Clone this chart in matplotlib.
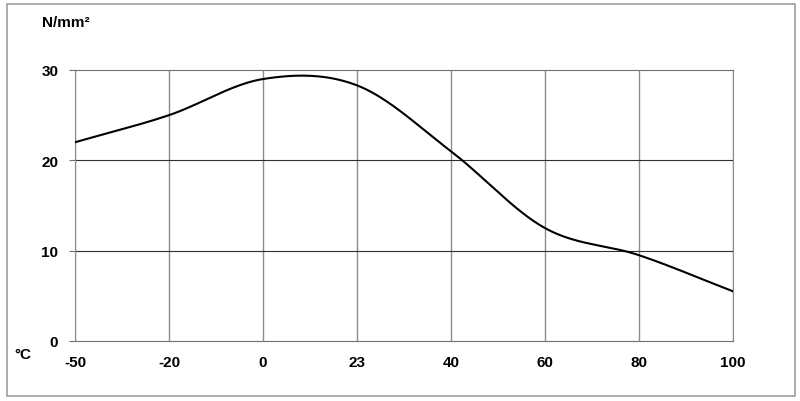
import numpy as np
import matplotlib.pyplot as plt
from matplotlib.patches import Rectangle

plt.rcParams['font.family'] = ['Liberation Sans', 'DejaVu Sans']

# temperature categories and strength values
temps = ['-50', '-20', '0', '23', '40', '60', '80', '100']
strength = [22.0, 25.0, 29.0, 28.3, 21.0, 12.5, 9.5, 5.5]
y_ticks = [0, 10, 20, 30]


def smooth(y, n=40):
    # catmull-rom through the points, like a spreadsheet "smoothed line"
    x = np.arange(len(y), dtype=float)
    y = np.asarray(y, dtype=float)
    px = np.concatenate([[2 * x[0] - x[1]], x, [2 * x[-1] - x[-2]]])
    py = np.concatenate([[2 * y[0] - y[1]], y, [2 * y[-1] - y[-2]]])
    xs, ys = [], []
    for i in range(1, len(px) - 2):
        t = np.linspace(0, 1, n, endpoint=(i == len(px) - 3))
        for p, out in ((px, xs), (py, ys)):
            p0, p1, p2, p3 = p[i - 1], p[i], p[i + 1], p[i + 2]
            out.extend(0.5 * ((2 * p1) + (-p0 + p2) * t
                              + (2 * p0 - 5 * p1 + 4 * p2 - p3) * t ** 2
                              + (-p0 + 3 * p1 - 3 * p2 + p3) * t ** 3))
    return np.array(xs), np.array(ys)


fig = plt.figure(figsize=(8, 4.02), dpi=100)
fig.patches.append(Rectangle((7 / 800, 5 / 402), 788 / 800, 392 / 402,
                             transform=fig.transFigure, fill=False,
                             edgecolor='#a0a0a0', linewidth=1.2))

ax = fig.add_axes([75 / 800, 60 / 402, 658 / 800, 271 / 402])
xs, ys = smooth(strength)
ax.plot(xs, ys, color='black', linewidth=1.5, zorder=3)

ax.set_xlim(0, len(temps) - 1)
ax.set_ylim(0, 30)
ax.set_xticks(range(len(temps)))
ax.set_xticklabels(temps, fontweight='bold', fontsize=11)
ax.set_yticks(y_ticks)
ax.set_yticklabels([str(v) for v in y_ticks], fontweight='bold', fontsize=11)

for i in range(len(temps)):
    ax.axvline(i, color='#8c8c8c', linewidth=1, zorder=1)
for v in y_ticks[1:-1]:
    ax.axhline(v, color='#303030', linewidth=0.8, zorder=1)

for s in ['top', 'bottom']:
    ax.spines[s].set_color('#707070')
for s in ['left', 'right']:
    ax.spines[s].set_color('#8c8c8c')
ax.tick_params(axis='y', length=4, color='#707070', pad=8)
ax.tick_params(axis='x', length=0, pad=10)

fig.text(42 / 800, 1 - 23 / 402, 'N/mm²', fontweight='bold', fontsize=11,
         va='center', ha='left')
fig.text(14 / 800, 1 - 355 / 402, '°C', fontweight='bold', fontsize=11,
         va='center', ha='left')

fig.savefig('out.png', dpi=100)
